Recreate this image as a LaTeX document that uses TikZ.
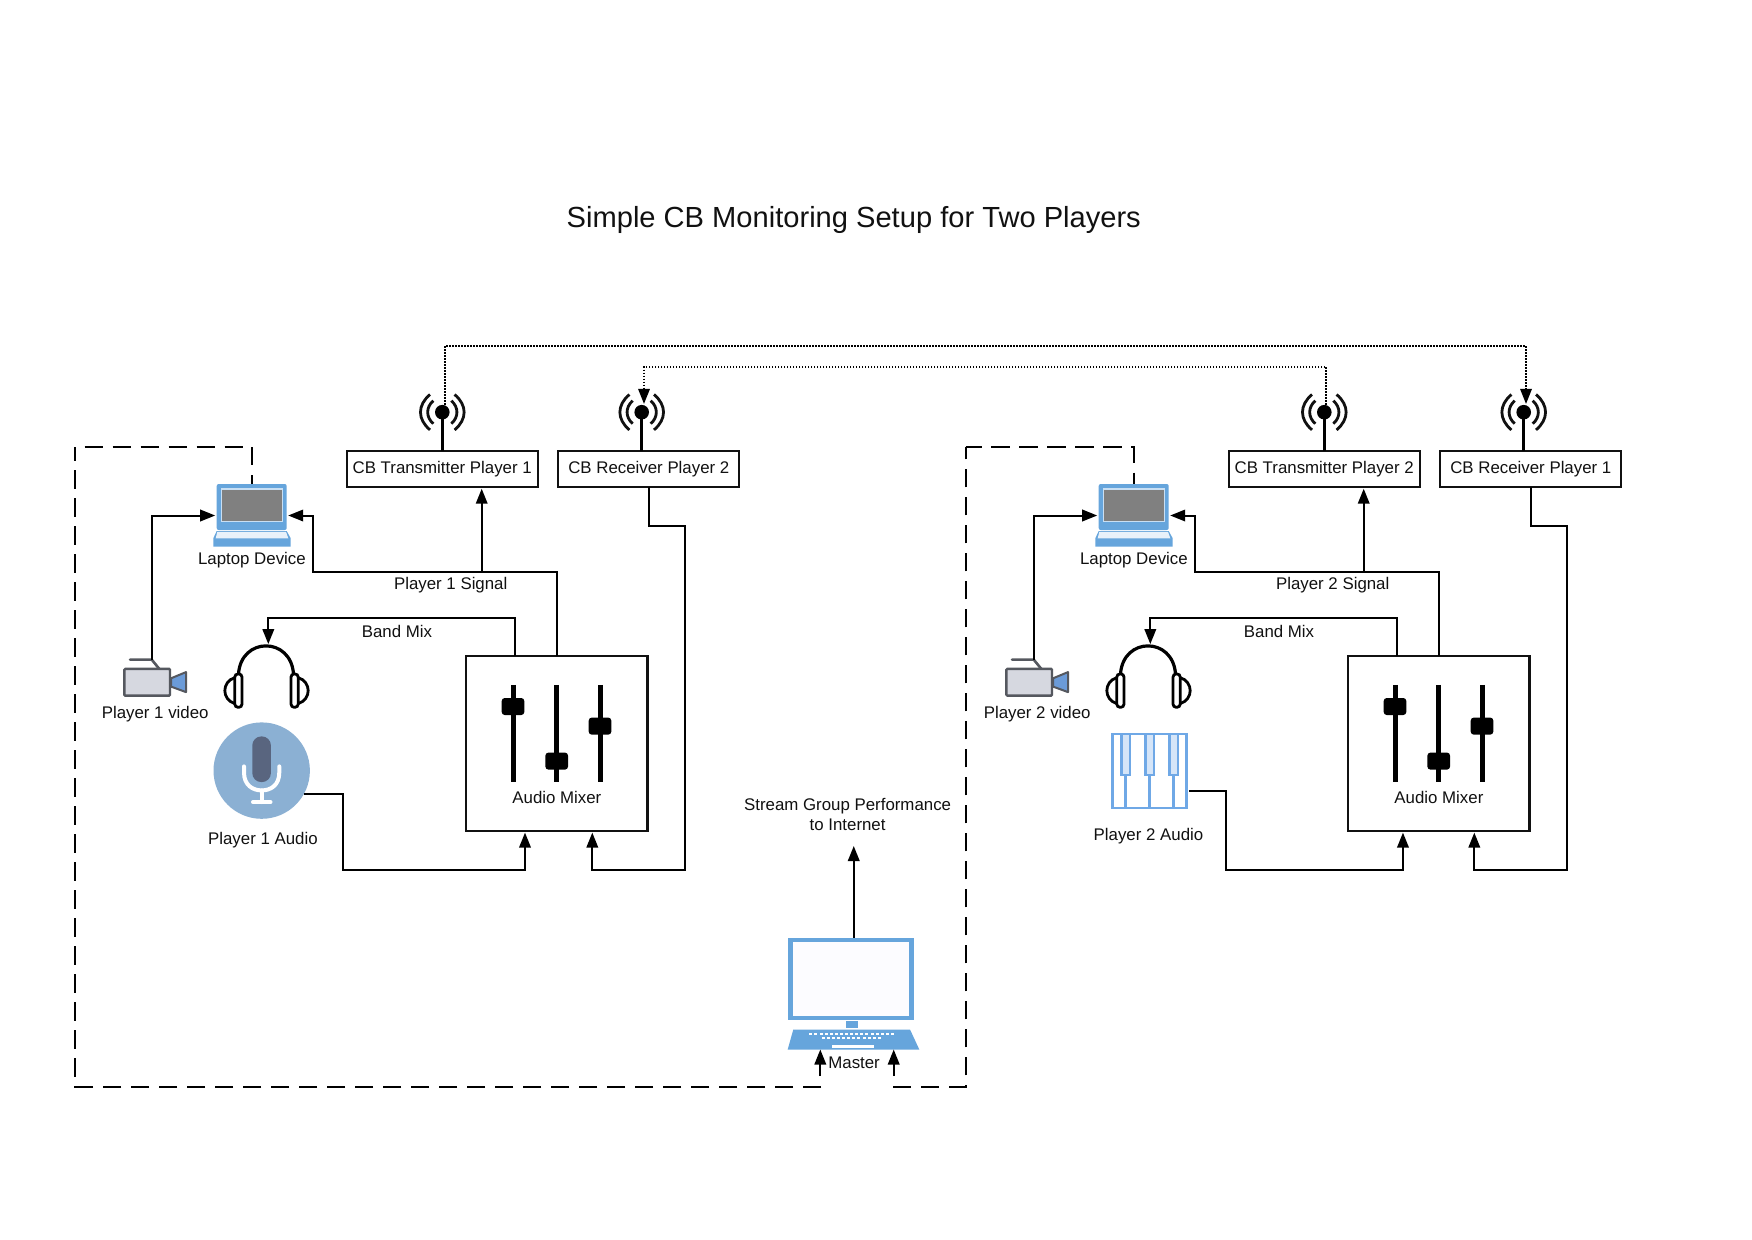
\documentclass[tikz,border=0pt]{standalone}
\usepackage{fontspec}
\setmainfont{Liberation Sans}
\usetikzlibrary{arrows.meta,calc}
\definecolor{lapblue}{HTML}{66A5DC}
\definecolor{inkc}{HTML}{111111}
\definecolor{srcblue}{HTML}{8BB0D3}
\definecolor{micdark}{HTML}{59657F}
\definecolor{pianoblue}{HTML}{6FA8E6}
\definecolor{keyblue}{HTML}{D5E5F8}
\definecolor{camgrey}{HTML}{D6D8E0}
\definecolor{camline}{HTML}{55585F}
\definecolor{camlens}{HTML}{6B9BD8}
\tikzset{
  lab/.style={inner sep=0pt,text=inkc,font=\fontsize{16.85}{20}\selectfont,align=center},
  ghost/.style={inner sep=0pt,outer sep=0pt,draw=none},
  cbbox/.style={draw=inkc,line width=2.2pt,inner sep=0pt,outer sep=0pt,text=inkc,font=\fontsize{16.85}{20}\selectfont},
  conn/.style={draw=black,line width=2pt},
  arr/.style={conn,-{Triangle[length=15pt,width=11.5pt]},shorten >=1.5pt},
  dotline/.style={draw=black,line width=1.7pt,dash pattern=on 1.5pt off 1.5pt},
  dashbox/.style={draw=black,line width=2.2pt,dash pattern=on 18.4pt off 9.6pt},
  fader/.style={line width=5pt,draw=black},
  knob/.style={fill=black,rounded corners=3pt},
  wave/.style={draw=inkc,line width=2.8pt},
}
\newcommand{\waves}[1]{%
  \fill[black] (#1) circle (7.3);
  \draw[wave] ($(#1)+(-12.3,-17.7)$) .. controls ($(#1)+(-25,-7)$) and ($(#1)+(-25,7)$) .. ($(#1)+(-12.3,17.7)$);
  \draw[wave] ($(#1)+(-9,-11.5)$) .. controls ($(#1)+(-16.5,-5)$) and ($(#1)+(-16.5,5)$) .. ($(#1)+(-9,11.5)$);
  \draw[wave] ($(#1)+(12.3,-17.7)$) .. controls ($(#1)+(25,-7)$) and ($(#1)+(25,7)$) .. ($(#1)+(12.3,17.7)$);
  \draw[wave] ($(#1)+(9,-11.5)$) .. controls ($(#1)+(16.5,-5)$) and ($(#1)+(16.5,5)$) .. ($(#1)+(9,11.5)$);
}
% #1 prefix, #2 shift, #3 player no, #4 other player no
\newcommand{\playerset}[4]{%
\begin{scope}[shift={(#2,0)},name prefix=#1-]
  % CB boxes
  \node[cbbox,minimum width=191pt,minimum height=36.4pt] (box) at (442.2,469) {CB Transmitter Player #3};
  \node[ghost,minimum width=14.6pt,minimum height=14.6pt] (ant) at (442.3,412.2) {};
  \draw[line width=3.2pt,black] (ant.center) -- (ant.center |- box.north);
  \waves{ant}
  \node[cbbox,minimum width=181pt,minimum height=36.4pt] (rx) at (648.8,469) {CB Receiver Player #4};
  \node[ghost,minimum width=14.6pt,minimum height=14.6pt] (rant) at (641.7,412.2) {};
  \draw[line width=3.2pt,black] (rant.center) -- (rant.center |- rx.north);
  \waves{rant}
  \coordinate (txdot) at ($(ant.north)+(2.7,0)$);
  \coordinate (rxdot) at ($(rant.north)+(2.3,-1)$);
  % laptop
  \node[ghost,minimum width=70pt,minimum height=63pt] (lap) at (251.7,515.5) {};
  \fill[lapblue,rounded corners=2pt] (216.7,484) rectangle (286.7,530);
  \fill[lapblue!35!white] (220.7,488.3) rectangle (282.7,522.3);
  \fill[gray] (222,489.5) rectangle (281.5,521);
  \fill[lapblue] (213.3,546.7) -- (213.3,538.3) -- (216.7,531) -- (286.7,531) -- (290.7,538.3) -- (290.7,546.7) -- cycle;
  \fill[lapblue!15!white] (217.3,531.8) -- (286,531.8) -- (288.3,538.3) -- (215.7,538.3) -- cycle;
  \node[lab] (laplab) at (251.9,559.9) {Laptop Device};
  % camera
  \node[ghost,minimum width=62pt,minimum height=36pt] (cam) at (155,677.6) {};
  \draw[draw=camline,line width=2.6pt,line cap=round] (130,659.6) -- (151.7,659.6) -- (159.3,668.9);
  \draw[draw=camline,line width=2.4pt,fill=camgrey,rounded corners=1pt] (124.3,668.9) rectangle (170,695.6);
  \draw[draw=camline,line width=2pt,fill=camlens,line join=round] (171,678.3) -- (186,672.1) -- (186,692.1) -- (171,686.6) -- cycle;
  \node[lab] (camlab) at (155.2,714.4) {Player #3 video};
  % headphones
  \node[ghost,minimum width=85pt,minimum height=62pt] (head) at (265.7,676.6) {};
  \draw[black,line width=3.2pt] (238.5,674) .. controls (241,636.5) and (291,636.5) .. (293.5,674);
  \draw[black,line width=2.8pt,rounded corners=3.2pt] (234.8,673.9) rectangle (242,707.3);
  \draw[black,line width=2.8pt,rounded corners=3.2pt] (291,673.9) rectangle (298.2,707.3);
  \draw[black,line width=2.8pt] (234.8,677.6) .. controls (221.5,681.6) and (221.5,699.6) .. (234.8,703.6);
  \draw[black,line width=2.8pt] (298.2,677.6) .. controls (311.5,681.6) and (311.5,699.6) .. (298.2,703.6);
  % mixer
  \node[cbbox,minimum width=181.2pt,minimum height=175pt] (mix) at (556.85,743.6) {};
  \draw[fader] (513,684.8) -- (513,781.8);
  \draw[fader] (556.7,684.8) -- (556.7,781.8);
  \draw[fader] (600,684.8) -- (600,781.8);
  \fill[knob] (501.7,698) rectangle (524.3,715);
  \fill[knob] (545.4,752.6) rectangle (568,769.6);
  \fill[knob] (588.7,717.6) rectangle (611.3,734.6);
  \node[lab] (mixlab) at (556.9,797.9) {Audio Mixer};
  % connectors
  \coordinate (sigl) at (312.7,571.5);
  \coordinate (sigj) at (481.7,571.5);
  \coordinate (bandc) at (268.3,618.4);
  \coordinate (rxa) at (685,526);
  \coordinate (rxb) at (685,870);
  \draw[arr] (mix.north) |- (sigl) |- (lap.east);
  \draw[arr] (sigj) -- ($(box.south)+(39.5,0)$);
  \draw[arr] ($(mix.north)+(-42.1,0)$) |- (bandc) -- ($(head.north)+(2.6,0)$);
  \draw[arr] ($(cam.north)+(-3,0)$) |- (lap.west);
  \draw[arr] (rx.south) |- (rxa) -- (rxb) -| ($(mix.south)+(35.45,0)$);
  \node[lab] (siglab) at (450.7,585) {Player #3 Signal};
  \node[lab] (bandlab) at (397,631) {Band Mix};
\end{scope}}
\begin{document}
\begin{tikzpicture}[x=1pt,y=-1pt]
  \useasboundingbox (0,0) rectangle (1752,1239);
  \fill[white] (0,0) rectangle (1752,1239);
  \node[inner sep=0pt,text=inkc,font=\fontsize{29.1}{34}\selectfont] (title) at (853.8,220.2) {Simple CB Monitoring Setup for Two Players};

  \playerset{L}{0}{1}{2}
  \playerset{R}{882}{2}{1}

  % Player 1 audio: microphone
  \begin{scope}[name prefix=L-]
    \node[circle,fill=srcblue,draw=none,minimum size=96.4pt,inner sep=0pt,outer sep=0pt] (src) at (261.7,770.6) {};
    \fill[micdark,rounded corners=9pt] (252.3,736.4) rectangle (270.9,782.1);
    \draw[white,line width=4pt,line cap=round] (244,766.4) -- (244,772.4) .. controls (244,785.4) and (253,790.4) .. (261.7,790.4) .. controls (270.5,790.4) and (279.3,785.4) .. (279.3,772.4) -- (279.3,766.4);
    \draw[white,line width=4pt,line cap=round] (261.7,790.4) -- (261.7,802.1) (253,802.1) -- (270.5,802.1);
    \node[lab] (srclab) at (262.9,840.5) {Player 1 Audio};
    \coordinate (srca) at (343,870);
    \draw[arr] (src.-29) -| (srca) -| ($(mix.south)+(-31.85,0)$);
  \end{scope}

  % Player 2 audio: keyboard
  \begin{scope}[name prefix=R-]
    \node[ghost,minimum width=75.6pt,minimum height=75.3pt] (src) at (1149.5,770.9) {};
    \draw[pianoblue,line width=2.7pt,fill=white] (1112.4,734) rectangle (1186.6,807.9);
    \foreach \kx in {1125.7,1149.7,1173.7} {
      \draw[pianoblue,line width=2.7pt] (\kx,775.6) -- (\kx,807.9);
      \draw[pianoblue,line width=2.7pt,fill=keyblue] (\kx-4.2,734) rectangle (\kx+4.2,775.1);
    }
    \node[lab] (srclab) at (1148.5,836.4) {Player 2 Audio};
    \coordinate (srca) at (1226.2,870);
    \coordinate (srcb) at ($(src.east)+(2,20)$);
    \draw[arr] (srcb) -| (srca) -| ($(mix.south)+(-35.9,0)$);
  \end{scope}

  % Master laptop
  \node[ghost,minimum width=125.7pt,minimum height=82pt] (master) at (851.15,978.8) {};
  \fill[lapblue] (788.3,937.8) rectangle (914,1019.8);
  \fill[blue!1!white] (793.3,942.2) rectangle (909.3,1015.5);
  \fill[lapblue] (846,1021.2) rectangle (857.7,1027.8);
  \node[ghost,minimum width=131.6pt,minimum height=20pt] (kb) at (853.5,1039.5) {};
  \fill[lapblue] (793.3,1029.5) -- (910,1029.5) -- (919.3,1049.5) -- (787.7,1049.5) -- cycle;
  \foreach \dx in {0,...,16} \fill[white] ($(809.3,1032.8)+(5.1*\dx,0)$) rectangle ++(3,2);
  \foreach \dx in {0,...,11} \fill[white] ($(821.7,1037.2)+(5.1*\dx,0)$) rectangle ++(3,2);
  \fill[white] (832.3,1044.5) rectangle (874,1048.2);
  \node[lab] (masterlab) at (854.1,1062.4) {Master};
  \node[lab,minimum height=62pt] (stream) at (847.6,814.8) {Stream Group Performance\\to Internet};
  \coordinate (mtop) at ($(master.north)+(2.6,0)$);
  \draw[arr,shorten >=0pt] (mtop) -- (mtop |- stream.south);
  \coordinate (m1) at (820.3,1076.2);
  \coordinate (m2) at (893.7,1076.2);
  \draw[arr,shorten >=0pt] (m1) -- (m1 |- kb.south);
  \draw[arr,shorten >=0pt] (m2) -- (m2 |- kb.south);

  % dashed enclosure
  \coordinate (d1) at (821,1086.6);
  \coordinate (d2) at (893,1086.6);
  \draw[dashbox] (d1) -- (75,1086.6) -- (75,447);
  \draw[dashbox,dash phase=18.4pt] (75,447) -- (L-lap.north |- 0,447);
  \draw[dashbox] (L-lap.north |- 0,447) -- (L-lap.north);
  \draw[dashbox] (d2) -- (965.7,1086.6) -- (965.7,447);
  \draw[dashbox,dash phase=2.4pt] (965.7,447) -- (R-lap.north |- 0,447) -- (R-lap.north);

  % dotted links
  \coordinate (t1) at (L-txdot);
  \coordinate (r1) at (R-rxdot);
  \coordinate (t2) at ($(R-txdot)+(-1.1,0)$);
  \coordinate (r2) at (L-rxdot);
  \draw[dotline,-{Triangle[length=15pt,width=11.5pt,fill=black]}] (t1) -- (t1 |- 0,346) -- (r1 |- 0,346) -- (r1);
  \draw[dotline,-{Triangle[length=15pt,width=11.5pt,fill=black]}] (t2) -- (t2 |- 0,366.7) -- (r2 |- 0,366.7) -- (r2);
\end{tikzpicture}
\end{document}
